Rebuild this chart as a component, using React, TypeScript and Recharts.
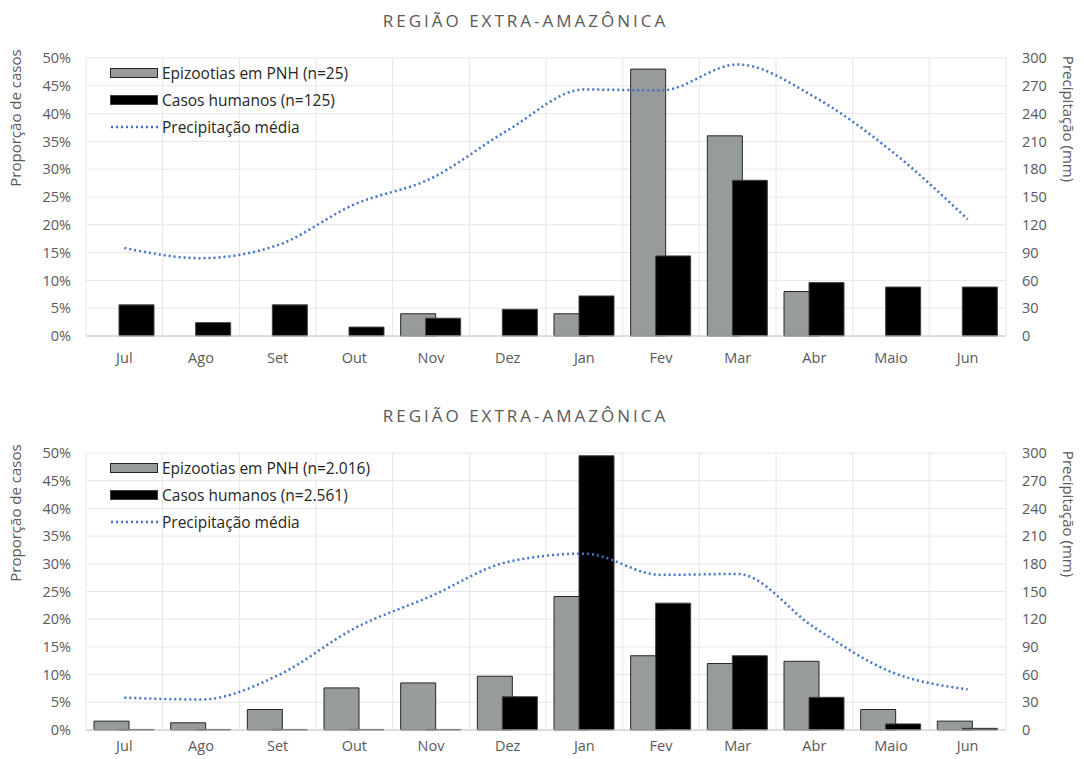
import React from "react";
import {
  ComposedChart,
  Bar,
  Line,
  XAxis,
  YAxis,
  CartesianGrid,
} from "recharts";

const meses = ["Jul", "Ago", "Set", "Out", "Nov", "Dez", "Jan", "Fev", "Mar", "Abr", "Maio", "Jun"];

// painel superior
const epiTopo = [0, 0, 0, 0, 4, 0, 4, 48, 36, 8, 0, 0];
const humTopo = [5.6, 2.4, 5.6, 1.6, 3.2, 4.8, 7.2, 14.4, 28, 9.6, 8.8, 8.8];
const chuvaTopo = [95, 84, 98, 142, 170, 222, 266, 265, 293, 258, 200, 126];

// painel inferior
const epiBase = [1.6, 1.3, 3.7, 7.6, 8.5, 9.7, 24.1, 13.4, 12.0, 12.4, 3.7, 1.6];
const humBase = [0.1, 0.1, 0.1, 0.1, 0.1, 6.0, 49.5, 22.9, 13.4, 5.9, 1.1, 0.3];
const chuvaBase = [35, 33, 59, 110, 145, 182, 191, 168, 169, 111, 63, 44];

const pctTicks = [0, 5, 10, 15, 20, 25, 30, 35, 40, 45, 50];
const mmTicks = [0, 30, 60, 90, 120, 150, 180, 210, 240, 270, 300];

const TXT = "#595959";
const FONT = "'Open Sans', sans-serif";
const GRAY = "#989b9b";
const BLUE = "#4472c4";

const tick = { fontSize: 14.5, fill: TXT, fontFamily: FONT };

function LegendBox({ nEpi, nHum }: { nEpi: string; nHum: string }) {
  const row: React.CSSProperties = {
    display: "flex",
    alignItems: "center",
    height: 27,
    fontFamily: FONT,
    fontSize: 15.5,
    color: "#262626",
    whiteSpace: "nowrap",
  };
  return (
    <div style={{ position: "absolute", left: 110, top: 59 }}>
      <div style={row}>
        <span style={{ width: 46, height: 8, background: GRAY, border: "1px solid #262626", marginRight: 4 }} />
        Epizootias em PNH (n={nEpi})
      </div>
      <div style={row}>
        <span style={{ width: 46, height: 8, background: "#000", border: "1px solid #404040", marginRight: 4 }} />
        Casos humanos (n={nHum})
      </div>
      <div style={row}>
        <svg width={48} height={6} style={{ marginRight: 4 }}>
          <line x1={1} y1={3} x2={48} y2={3} stroke={BLUE} strokeWidth={2.5} strokeDasharray="2 3" />
        </svg>
        Precipitação média
      </div>
    </div>
  );
}

function Painel({
  top,
  height,
  epi,
  hum,
  chuva,
  nEpi,
  nHum,
  xMargin,
}: {
  top: number;
  height: number;
  epi: number[];
  hum: number[];
  chuva: number[];
  nEpi: string;
  nHum: string;
  xMargin: number;
}) {
  const data = meses.map((m, i) => ({ mes: m, epi: epi[i], hum: hum[i], chuva: chuva[i] }));
  return (
    <div style={{ position: "absolute", left: 0, top, width: 1084, height }}>
      <div
        style={{
          position: "absolute",
          left: 0,
          width: 1051,
          top: 9,
          textAlign: "center",
          fontFamily: FONT,
          fontSize: 17,
          letterSpacing: 3,
          color: TXT,
        }}
      >
        REGIÃO EXTRA-AMAZÔNICA
      </div>
      <div
        style={{
          position: "absolute",
          left: 15,
          top: 118,
          transform: "translate(-50%, -50%) rotate(-90deg)",
          whiteSpace: "nowrap",
          fontFamily: FONT,
          fontSize: 15,
          color: TXT,
        }}
      >
        Proporção de casos
      </div>
      <div
        style={{
          position: "absolute",
          left: 1069,
          top: 119,
          transform: "translate(-50%, -50%) rotate(90deg)",
          whiteSpace: "nowrap",
          fontFamily: FONT,
          fontSize: 15,
          color: TXT,
        }}
      >
        Precipitação (mm)
      </div>
      <ComposedChart
        width={1084}
        height={height}
        data={data}
        margin={{ top: 58, right: 0, bottom: 0, left: 0 }}
        barSize={35}
        barGap={-10}
      >
        <CartesianGrid
          stroke="#e6e6e6"
          strokeWidth={1}
          yAxisId="left"
          verticalCoordinatesGenerator={({ offset }: any) =>
            meses.map((_, i) => offset.left + (i * offset.width) / meses.length).concat(offset.left + offset.width)
          }
        />
        <XAxis
          dataKey="mes"
          height={44}
          tick={tick}
          tickLine={false}
          tickMargin={xMargin}
          axisLine={{ stroke: "#c8c8c8" }}
          interval={0}
        />
        <YAxis
          yAxisId="left"
          width={86}
          domain={[0, 50]}
          ticks={pctTicks}
          interval={0}
          tickFormatter={(v) => `${v}%`}
          tick={tick}
          tickLine={false}
          axisLine={false}
          tickMargin={9}
        />
        <YAxis
          yAxisId="right"
          orientation="right"
          width={78}
          domain={[0, 300]}
          ticks={mmTicks}
          interval={0}
          tick={tick}
          tickLine={false}
          axisLine={false}
          tickMargin={10}
        />
        <Bar yAxisId="left" dataKey="epi" fill={GRAY} stroke="#262626" strokeWidth={1} isAnimationActive={false} />
        <Bar yAxisId="left" dataKey="hum" fill="#000" stroke="#404040" strokeWidth={1} isAnimationActive={false} />
        <Line
          yAxisId="right"
          dataKey="chuva"
          type="monotone"
          stroke={BLUE}
          strokeWidth={2.5}
          strokeDasharray="2 3"
          dot={false}
          isAnimationActive={false}
        />
      </ComposedChart>
      <LegendBox nEpi={nEpi} nHum={nHum} />
    </div>
  );
}

export default function App() {
  return (
    <div style={{ position: "absolute", left: 0, top: 0, width: 1084, height: 759, background: "#fff" }}>
      <Painel top={0} height={380} epi={epiTopo} hum={humTopo} chuva={chuvaTopo} nEpi="25" nHum="125" xMargin={11} />
      <Painel top={395} height={379} epi={epiBase} hum={humBase} chuva={chuvaBase} nEpi="2.016" nHum="2.561" xMargin={5} />
    </div>
  );
}
